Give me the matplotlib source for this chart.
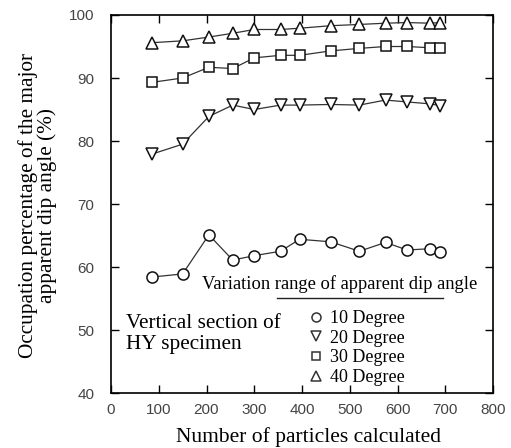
import matplotlib
matplotlib.use("Agg")
import matplotlib.pyplot as plt
from matplotlib.lines import Line2D

# particles counted
x = [85, 150, 205, 255, 300, 355, 395, 460, 520, 575, 620, 668, 690]
# occupation percentage for each variation range
deg10 = [58.4, 58.9, 65.1, 61.1, 61.8, 62.5, 64.4, 64.0, 62.5, 63.9, 62.7, 62.9, 62.4]
deg20 = [77.9, 79.5, 83.9, 85.7, 85.0, 85.7, 85.7, 85.8, 85.7, 86.5, 86.2, 85.9, 85.6]
deg30 = [89.3, 90.0, 91.7, 91.5, 93.2, 93.6, 93.6, 94.3, 94.7, 95.0, 95.0, 94.8, 94.8]
deg40 = [95.6, 95.9, 96.5, 97.1, 97.7, 97.7, 97.9, 98.3, 98.5, 98.7, 98.8, 98.7, 98.8]

labels = ["10 Degree", "20 Degree", "30 Degree", "40 Degree"]
markers = ["o", "v", "s", "^"]
xticks = [0, 100, 200, 300, 400, 500, 600, 700, 800]
yticks = [40, 50, 60, 70, 80, 90, 100]

W, H = 511, 448
fig = plt.figure(figsize=(W / 100, H / 100), dpi=100)
ax = fig.add_axes([111 / W, 1 - 393 / H, 382 / W, 378 / H])

serif = "Liberation Serif"
sizes = {"o": 8, "v": 8.3, "s": 7, "^": 8.3}

for ys, m in zip([deg10, deg20, deg30, deg40], markers):
    ax.plot(x, ys, color="#333333", lw=0.9, marker=m, ms=sizes[m],
            mfc="white", mec="#111111", mew=1.1)

ax.set_xlim(0, 800)
ax.set_ylim(40, 100)
ax.set_xticks(xticks)
ax.set_yticks(yticks)
ax.tick_params(direction="in", length=6, width=1, top=True, right=True,
               labelsize=11, labelcolor="#444444")
ax.tick_params(axis="y", pad=12)
ax.tick_params(axis="x", pad=7)
for lab in ax.get_xticklabels() + ax.get_yticklabels():
    lab.set_family("Liberation Sans")
for sp in ax.spines.values():
    sp.set_linewidth(1.2)

ax.set_xlabel("Number of particles calculated", fontsize=15.5, family=serif)
ax.xaxis.set_label_coords(0.518, -0.09)
ax.set_ylabel("Occupation percentage of the major\napparent dip angle (%)",
              fontsize=15.3, family=serif, linespacing=0.95)
ax.yaxis.set_label_coords(-0.142, 0.495)

fig.text(126 / W, 1 - 334 / H, "Vertical section of\nHY specimen", fontsize=15.3,
         family=serif, va="center", ha="left", linespacing=1.2)

# legend
fig.text(202 / W, 1 - 284 / H, "Variation range of apparent dip angle",
         fontsize=13.3, family=serif, va="center", ha="left")
fig.add_artist(Line2D([277 / W, 443 / W], [1 - 297.5 / H, 1 - 297.5 / H],
                      transform=fig.transFigure, color="#222222", lw=1))
handles = [Line2D([], [], ls="none", marker=m, ms=6.5 if m != "s" else 6, mfc="white",
                  mec="#333333", mew=1.1) for m in markers]
ax.legend(handles, labels, loc="upper left", bbox_to_anchor=(298 / W, 1 - 301 / H),
          bbox_transform=fig.transFigure, frameon=False, borderpad=0,
          handlelength=1.0, handletextpad=0.25, labelspacing=0.15,
          prop={"family": serif, "size": 13})

fig.savefig("out.png", dpi=100)
